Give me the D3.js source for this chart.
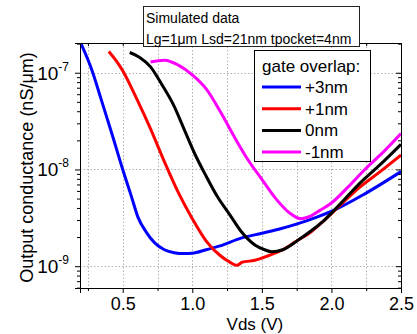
<!DOCTYPE html>
<html>
<head>
<meta charset="utf-8">
<script src="https://cdn.jsdelivr.net/npm/d3@7"></script>
<style>
  html, body { margin: 0; padding: 0; background: #fff; }
  svg { display: block; font-family: Arial, "Liberation Sans", sans-serif; }
</style>
</head>
<body>
<script>
// Output conductance vs Vds, four gate overlaps
const seriesNames = ['+3nm', '+1nm', '0nm', '-1nm']
const seriesColors = ['#0000ff', '#ff0000', '#000000', '#ff00ff']

const vdsBlue = [0.20, 0.28, 0.34, 0.42, 0.50, 0.56, 0.61, 0.67, 0.73, 0.80, 0.87, 0.94, 1.00, 1.10, 1.20, 1.35, 1.50, 1.64, 1.76, 1.88, 2.02, 2.24, 2.50]
const gBlue = [2.0e-7, 1.05e-7, 5.6e-8, 2.4e-8, 1.0e-8, 5.4e-9, 3.2e-9, 2.24e-9, 1.74e-9, 1.48e-9, 1.38e-9, 1.35e-9, 1.36e-9, 1.48e-9, 1.62e-9, 1.95e-9, 2.19e-9, 2.45e-9, 2.75e-9, 3.16e-9, 3.8e-9, 5.6e-9, 9.5e-9]

const vdsRed = [0.40, 0.45, 0.50, 0.60, 0.70, 0.80, 0.90, 1.00, 1.10, 1.20, 1.27, 1.32, 1.36, 1.45, 1.55, 1.65, 1.75, 1.85, 1.95, 2.05, 2.20, 2.35, 2.50]
const gRed = [1.66e-7, 1.35e-7, 1.05e-7, 5.4e-8, 2.63e-8, 1.2e-8, 5.75e-9, 3.1e-9, 1.82e-9, 1.29e-9, 1.1e-9, 1.02e-9, 1.1e-9, 1.15e-9, 1.29e-9, 1.48e-9, 1.82e-9, 2.24e-9, 3.0e-9, 4.1e-9, 6.5e-9, 9.5e-9, 1.41e-8]

const vdsBlack = [0.55, 0.62, 0.70, 0.78, 0.87, 0.94, 1.015, 1.10, 1.18, 1.27, 1.35, 1.45, 1.52, 1.57, 1.65, 1.76, 1.85, 1.95, 2.05, 2.20, 2.35, 2.50]
const gBlack = [1.62e-7, 1.45e-7, 1.15e-7, 7.6e-8, 4.5e-8, 2.63e-8, 1.48e-8, 8.5e-9, 5.25e-9, 3.4e-9, 2.3e-9, 1.66e-9, 1.48e-9, 1.41e-9, 1.48e-9, 1.86e-9, 2.3e-9, 3.0e-9, 4.2e-9, 7.1e-9, 1.12e-8, 1.82e-8]

const vdsMagenta = [0.70, 0.80, 0.90, 1.00, 1.10, 1.20, 1.30, 1.40, 1.50, 1.60, 1.70, 1.78, 1.85, 1.92, 2.00, 2.12, 2.24, 2.37, 2.50]
const gMagenta = [1.29e-7, 1.35e-7, 1.2e-7, 9.5e-8, 6.8e-8, 4.0e-8, 2.2e-8, 1.26e-8, 7.9e-9, 5.0e-9, 3.55e-9, 3.1e-9, 3.3e-9, 3.8e-9, 4.5e-9, 6.6e-9, 1.0e-8, 1.5e-8, 2.35e-8]

const xTicks = [0.5, 1.0, 1.5, 2.0, 2.5]
const xMinorTicks = [0.25, 0.5, 0.75, 1.0, 1.25, 1.5, 1.75, 2.0, 2.25, 2.5]
const yDecades = [-9, -8, -7]

const boxLines = ['Simulated data', 'Lg=1μm Lsd=21nm tpocket=4nm']
const legendTitle = 'gate overlap:'

const W = 417, H = 334
const margin = {left: 80, right: 16, top: 43, bottom: 46}

const series = [
    {x: vdsBlue, y: gBlue},
    {x: vdsRed, y: gRed},
    {x: vdsBlack, y: gBlack},
    {x: vdsMagenta, y: gMagenta},
].map((s, i) => ({name: seriesNames[i], color: seriesColors[i], pts: s.x.map((v, j) => [v, s.y[j]])}))

const x = d3.scaleLinear().domain([0.193, 2.5]).range([margin.left, W - margin.right])
const y = d3.scaleLog().domain([5.95e-10, 2.03e-7]).range([H - margin.bottom, margin.top])

const svg = d3.select('body').append('svg')
    .attr('width', W)
    .attr('height', H)

svg.append('defs').append('clipPath').attr('id', 'plot')
    .append('rect')
    .attr('x', margin.left).attr('y', margin.top)
    .attr('width', W - margin.left - margin.right)
    .attr('height', H - margin.top - margin.bottom)

// minor log ticks
const minorVals = []
for (let e = -10; e <= -7; e++) {
    for (let k = 2; k <= 9; k++) {
        const v = k * Math.pow(10, e)
        if (v > y.domain()[0] && v < y.domain()[1]) minorVals.push(v)
    }
}

// grid
const grid = svg.append('g')
    .attr('stroke', '#b0b0b0')
    .attr('stroke-width', 1)
    .attr('stroke-dasharray', '1.5,2')
grid.selectAll('line.vx')
    .data(xMinorTicks.filter(d => d < 2.5))
    .join('line')
    .attr('x1', d => Math.round(x(d)) + 0.5).attr('x2', d => Math.round(x(d)) + 0.5)
    .attr('y1', margin.top).attr('y2', H - margin.bottom)
grid.selectAll('line.hy')
    .data(yDecades)
    .join('line')
    .attr('x1', margin.left).attr('x2', W - margin.right)
    .attr('y1', d => Math.round(y(Math.pow(10, d))) + 0.5).attr('y2', d => Math.round(y(Math.pow(10, d))) + 0.5)

// curves
const line = d3.line()
    .x(d => x(d[0]))
    .y(d => y(d[1]))
    .curve(d3.curveMonotoneX)

svg.append('g')
    .attr('clip-path', 'url(#plot)')
    .selectAll('path')
    .data(series)
    .join('path')
    .attr('fill', 'none')
    .attr('stroke', d => d.color)
    .attr('stroke-width', 3)
    .attr('stroke-linejoin', 'round')
    .attr('d', d => line(d.pts))

// axes
const axBottom = svg.append('g')
    .attr('transform', `translate(0,${H - margin.bottom})`)
    .call(d3.axisBottom(x).tickValues(xTicks).tickSize(5).tickFormat(d3.format('.1f')))
axBottom.selectAll('text').attr('font-size', 18).attr('dy', '0.78em').attr('fill', '#000')
axBottom.append('g').selectAll('line')
    .data(xMinorTicks.filter(d => !xTicks.includes(d)))
    .join('line')
    .attr('x1', d => x(d) + 0.5).attr('x2', d => x(d) + 0.5)
    .attr('y1', 0).attr('y2', 3).attr('stroke', '#000')

svg.append('g')
    .attr('transform', `translate(0,${margin.top})`)
    .call(d3.axisTop(x).tickValues(xMinorTicks).tickSize(-3).tickFormat(''))

const axLeft = svg.append('g')
    .attr('transform', `translate(${margin.left},0)`)
    .call(d3.axisLeft(y).tickValues(yDecades.map(e => Math.pow(10, e))).tickSize(5).tickFormat(''))
axLeft.append('g').selectAll('line')
    .data(minorVals)
    .join('line')
    .attr('x1', 0).attr('x2', -3)
    .attr('y1', d => y(d) + 0.5).attr('y2', d => y(d) + 0.5)
    .attr('stroke', '#000')

const axRight = svg.append('g')
    .attr('transform', `translate(${W - margin.right},0)`)
    .call(d3.axisRight(y).tickValues(yDecades.map(e => Math.pow(10, e))).tickSize(-5).tickFormat(''))
axRight.append('g').selectAll('line')
    .data(minorVals)
    .join('line')
    .attr('x1', 0).attr('x2', -3)
    .attr('y1', d => y(d) + 0.5).attr('y2', d => y(d) + 0.5)
    .attr('stroke', '#000')

svg.selectAll('.domain').attr('stroke', '#000')

// y tick labels 10^e
const yLab = svg.append('g').attr('fill', '#000')
yDecades.forEach(e => {
    const t = yLab.append('text')
        .attr('x', 69)
        .attr('y', y(Math.pow(10, e)) + 7)
        .attr('text-anchor', 'end')
        .attr('font-size', 19)
    t.append('tspan').text('10')
    t.append('tspan').attr('font-size', 12).attr('dy', -9).text('-' + (-e))
})

// axis titles
svg.append('text')
    .attr('x', x(1.45)).attr('y', 330)
    .attr('text-anchor', 'middle')
    .attr('font-size', 17)
    .text('Vds (V)')
svg.append('text')
    .attr('transform', `translate(33,${(margin.top + H - margin.bottom) / 2 + 2}) rotate(-90)`)
    .attr('text-anchor', 'middle')
    .attr('font-size', 18)
    .text('Output conductance (nS/μm)')

// annotation box
const box = svg.append('g')
box.append('rect')
    .attr('x', 143.5).attr('y', 6.5).attr('width', 216).attr('height', 40)
    .attr('fill', '#fff').attr('stroke', '#222')
box.selectAll('text')
    .data(boxLines)
    .join('text')
    .attr('x', 146).attr('y', (d, i) => 23 + i * 21)
    .attr('font-size', 14)
    .text(d => d)

// legend
const legend = svg.append('g')
legend.append('rect')
    .attr('x', 254.5).attr('y', 50.5).attr('width', 116).attr('height', 111)
    .attr('fill', '#fff').attr('stroke', '#000')
legend.append('text')
    .attr('x', 262).attr('y', 72)
    .attr('font-size', 17)
    .text(legendTitle)
const entry = legend.selectAll('g.entry')
    .data(series)
    .join('g')
    .attr('transform', (d, i) => `translate(0,${87 + i * 21.7})`)
entry.append('line')
    .attr('x1', 262).attr('x2', 301)
    .attr('stroke', d => d.color)
    .attr('stroke-width', 3)
entry.append('text')
    .attr('x', 305).attr('y', 6)
    .attr('font-size', 17)
    .text(d => d.name)
</script>
</body>
</html>
